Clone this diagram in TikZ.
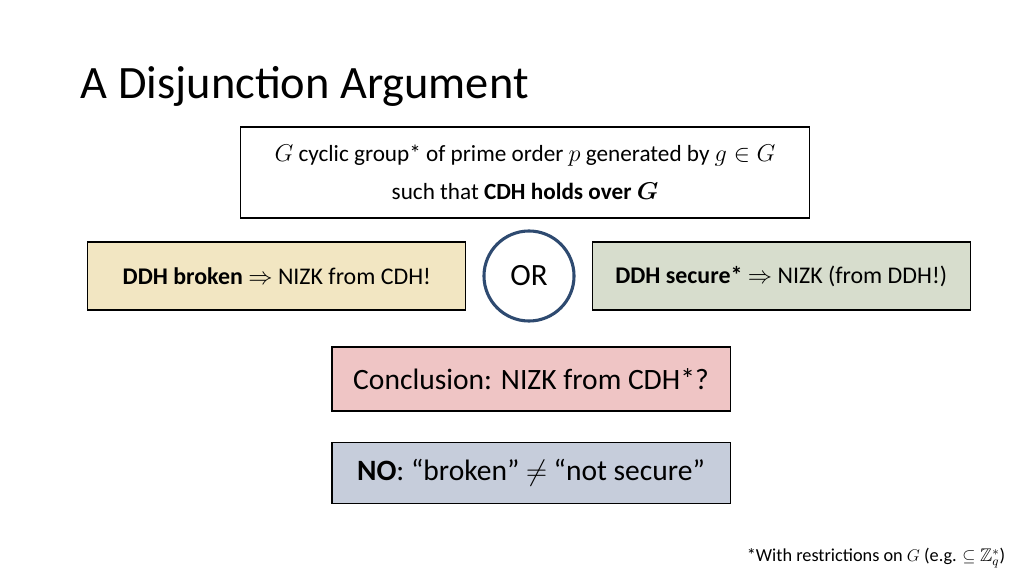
\documentclass[tikz,border=0pt]{standalone}
\usepackage{amssymb}
\usepackage{bm}
\usepackage{fontspec}
\setmainfont{Carlito}
\usetikzlibrary{positioning}
\definecolor{brokenfill}{HTML}{F2E6C2}
\definecolor{securefill}{HTML}{D7DDCD}
\definecolor{conclfill}{HTML}{EFC5C5}
\definecolor{nofill}{HTML}{C6CDDB}
\definecolor{orline}{HTML}{2E4A70}
\tikzset{
    % boxes of the slide
    slidebox/.style={
           rectangle,
           draw=black, thick,
           align=center,
           inner sep=0pt},
    orcircle/.style={
           circle,
           draw=orline, line width=2.2pt,
           minimum size=2.25cm,
           font=\fontsize{22}{26}\selectfont}
}
\begin{document}
\begin{tikzpicture}[x=0.025cm,y=-0.025cm]
 \useasboundingbox (0,0) rectangle (1024,576);
 %Title
 \node[anchor=west,font=\fontsize{33}{38}\selectfont] (title) at (76,86) {A Disjunction Argument};

 %Setting
 \node[slidebox,minimum width=14.2cm,minimum height=2.275cm,font=\fontsize{16.5}{27}\selectfont] (setting) at (525,172.5)
   {$G$ cyclic group* of prime order $p$ generated by $g\in G$\\ such that \textbf{CDH holds over $\bm{G}$}};

 %Cases
 \node[orcircle] (or) at (529,276) {OR};
 \node[slidebox,fill=brokenfill,minimum width=9.45cm,minimum height=1.7cm,font=\fontsize{17}{20}\selectfont,left=0.4cm of or] (broken)
   {\textbf{DDH broken} $\Rightarrow$ NIZK from CDH!};
 \node[slidebox,fill=securefill,minimum width=9.45cm,minimum height=1.7cm,font=\fontsize{17}{20}\selectfont,right=0.4cm of or] (secure)
   {\textbf{DDH secure*} $\Rightarrow$ NIZK (from DDH!)};

 %Conclusion
 \node[slidebox,fill=conclfill,minimum width=9.95cm,minimum height=1.6cm,font=\fontsize{21}{25}\selectfont] (concl) at (531,379)
   {Conclusion: NIZK from CDH*?};
 \node[slidebox,fill=nofill,minimum width=9.95cm,minimum height=1.525cm,font=\fontsize{21}{25}\selectfont,below=0.75cm of concl] (no)
   {\textbf{NO}: “broken” $\neq$ “not secure”};

 %Footnote
 \node[anchor=east,font=\fontsize{13}{15}\selectfont] (foot) at (1010,558)
   {*With restrictions on $G$ (e.g. $\subseteq \mathbb{Z}_q^*$)};
\end{tikzpicture}
\end{document}
